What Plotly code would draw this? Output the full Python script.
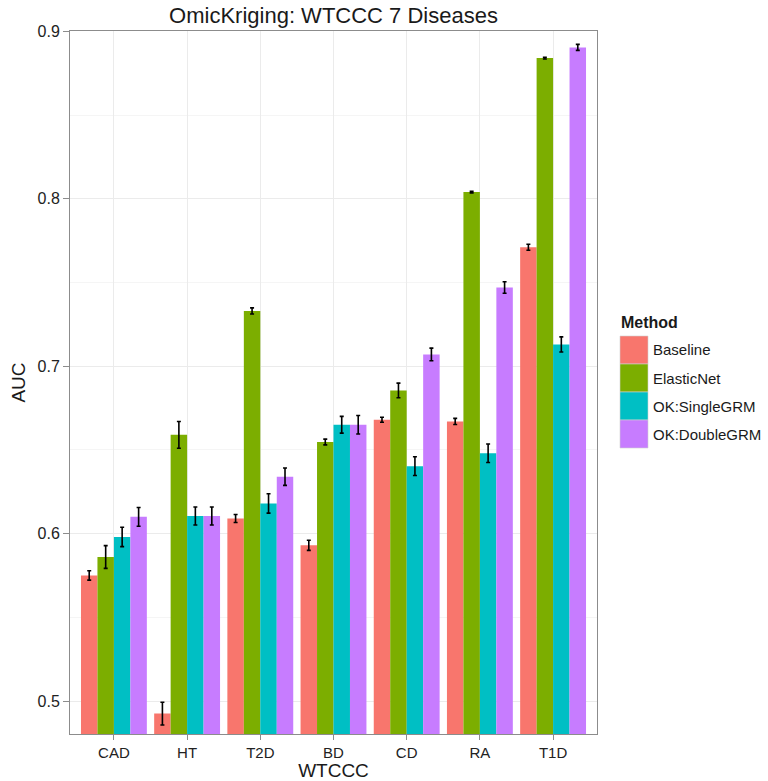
import plotly.graph_objects as go

# WTCCC diseases and prediction methods
diseases = ["CAD", "HT", "T2D", "BD", "CD", "RA", "T1D"]
methods = ["Baseline", "ElasticNet", "OK:SingleGRM", "OK:DoubleGRM"]
colors = ["#F8766D", "#7CAE00", "#00BFC4", "#C77CFF"]

# Mean AUC per disease, one list per method
auc_baseline = [0.575, 0.4925, 0.609, 0.593, 0.668, 0.667, 0.771]
auc_elasticnet = [0.586, 0.659, 0.733, 0.6547, 0.6855, 0.804, 0.884]
auc_single = [0.598, 0.6105, 0.618, 0.665, 0.6403, 0.648, 0.713]
auc_double = [0.610, 0.6105, 0.634, 0.665, 0.707, 0.747, 0.8904]

# Standard errors of the AUC
se_baseline = [0.0028, 0.0068, 0.0024, 0.003, 0.0015, 0.0018, 0.0018]
se_elasticnet = [0.0068, 0.008, 0.0018, 0.0017, 0.0044, 0.0005, 0.0005]
se_single = [0.0058, 0.0054, 0.0058, 0.005, 0.0056, 0.0055, 0.0045]
se_double = [0.0056, 0.0054, 0.0052, 0.0055, 0.0038, 0.0034, 0.0018]

auc = [auc_baseline, auc_elasticnet, auc_single, auc_double]
se = [se_baseline, se_elasticnet, se_single, se_double]

FONT = "Liberation Sans, Arial, Helvetica, sans-serif"
TEXT = "#1a1a1a"

fig = go.Figure()
for name, col, vals, errs in zip(methods, colors, auc, se):
    fig.add_trace(go.Bar(
        x=diseases, y=vals, name=name, marker=dict(color=col, line=dict(width=0)),
        error_y=dict(type="data", array=errs, visible=True, color="black",
                     thickness=1.6, width=2),
        showlegend=False,
    ))

# plot area geometry (pixels)
W, H = 768, 781
L, R, T, B = 70, 597, 31, 734

fig.update_layout(
    width=W, height=H,
    margin=dict(l=L, r=W - R, t=T, b=H - B, autoexpand=False),
    paper_bgcolor="white", plot_bgcolor="white",
    barmode="group", bargap=0.1, bargroupgap=0,
    font=dict(family=FONT, color=TEXT),
    title=dict(text="OmicKriging: WTCCC 7 Diseases", x=(L + R) / 2 / W, xanchor="center",
               y=1 - 15 / H, yanchor="middle", font=dict(size=22, color=TEXT)),
)

fig.update_xaxes(
    range=[-0.6, 6.6], showgrid=True, gridcolor="#EBEBEB", gridwidth=1,
    showline=True, linecolor="#8C8C8C", linewidth=1, mirror=True,
    ticks="outside", ticklen=5, tickcolor="#8C8C8C", tickwidth=1,
    tickfont=dict(size=15, color="#222"),
    title=dict(text="WTCCC", font=dict(size=19, color=TEXT), standoff=5),
    zeroline=False,
)
fig.update_yaxes(
    range=[0.4803, 0.9002], tickvals=[0.5, 0.6, 0.7, 0.8, 0.9],
    ticktext=["0.5", "0.6", "0.7", "0.8", "0.9"],
    showgrid=True, gridcolor="#EBEBEB", gridwidth=1,
    minor=dict(tickvals=[0.55, 0.65, 0.75, 0.85], showgrid=True, gridcolor="#F5F5F5", gridwidth=1),
    showline=True, linecolor="#8C8C8C", linewidth=1, mirror=True,
    ticks="outside", ticklen=6, tickcolor="#8C8C8C", tickwidth=1,
    tickfont=dict(size=16, color="#222"),
    title=dict(text="AUC", font=dict(size=19, color=TEXT), standoff=6),
    zeroline=False,
)

# legend drawn as keys + labels to the right of the panel
def px_x(px):
    return (px - L) / (R - L)

def px_y(py):
    return (B - py) / (B - T)

key_left, key_size, key_top = 620, 28, 336
fig.add_annotation(
    x=px_x(key_left - 1), y=px_y(323), xref="paper", yref="paper",
    text="<b>Method</b>", showarrow=False, xanchor="left", yanchor="middle",
    font=dict(size=16, color=TEXT),
)
for i, (name, col) in enumerate(zip(methods, colors)):
    top = key_top + i * key_size
    fig.add_shape(
        type="rect", xref="paper", yref="paper",
        x0=px_x(key_left), x1=px_x(key_left + key_size),
        y0=px_y(top + key_size), y1=px_y(top),
        fillcolor=col, line=dict(color="#D0D0D0", width=0.6),
    )
    fig.add_annotation(
        x=px_x(key_left + key_size + 3), y=px_y(top + key_size / 2),
        xref="paper", yref="paper", text=name, showarrow=False,
        xanchor="left", yanchor="middle", font=dict(size=15, color=TEXT),
    )

fig.write_html("out.html")
